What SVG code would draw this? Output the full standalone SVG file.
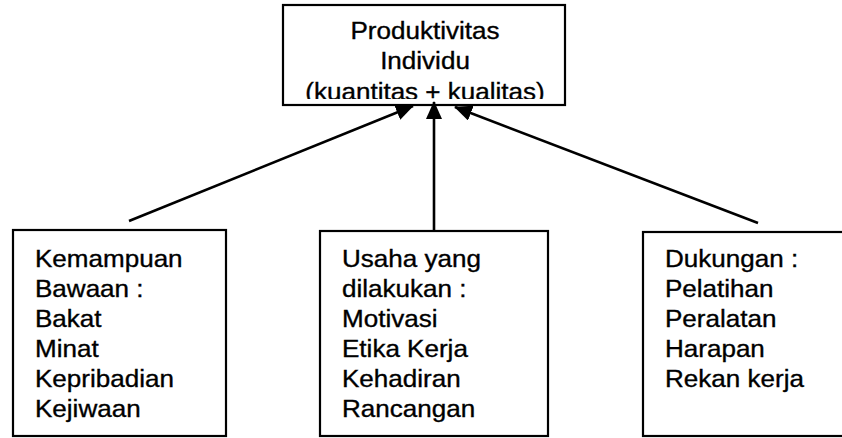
<svg xmlns="http://www.w3.org/2000/svg" width="842" height="438" viewBox="0 0 842 438">
<style>
.box{fill:#fff;stroke:#000;stroke-width:2.2}
.t{font-family:"Liberation Sans",Arial,sans-serif;font-size:24px;fill:#000;stroke:#000;stroke-width:0.35}
.c{text-anchor:middle}
.con{stroke:#000;stroke-width:2.6;fill:none}
</style>
<defs>
<marker id="ah" markerUnits="userSpaceOnUse" markerWidth="18" markerHeight="16" viewBox="0 0 18 16" refX="17" refY="8" orient="auto">
<path d="M0,0 L18,8 L0,16 Z" fill="#000"/>
</marker>
<clipPath id="topclip"><rect x="283" y="5" width="282" height="94"/></clipPath>
</defs>
<rect width="842" height="438" fill="#fff"/>
<g id="top">
<rect class="box" x="283" y="5" width="282" height="100"/>
<g clip-path="url(#topclip)">
<text class="t c" transform="translate(425 39) scale(1.085 1)">Produktivitas</text>
<text class="t c" transform="translate(425 69) scale(1.085 1)">Individu</text>
<text class="t c" transform="translate(425 100) scale(1.085 1)">(kuantitas + kualitas)</text>
</g>
</g>
<g id="connectors">
<line class="con" x1="129" y1="221" x2="413" y2="106" marker-end="url(#ah)"/>
<line class="con" x1="434" y1="231" x2="434" y2="102" marker-end="url(#ah)"/>
<line class="con" x1="758" y1="223" x2="455" y2="107" marker-end="url(#ah)"/>
</g>
<g id="kemampuan">
<rect class="box" x="13" y="230" width="213" height="206"/>
<text class="t" transform="translate(35 267) scale(1.085 1)">Kemampuan</text>
<text class="t" transform="translate(35 297) scale(1.085 1)">Bawaan :</text>
<text class="t" transform="translate(35 327) scale(1.085 1)">Bakat</text>
<text class="t" transform="translate(35 357) scale(1.085 1)">Minat</text>
<text class="t" transform="translate(35 387) scale(1.085 1)">Kepribadian</text>
<text class="t" transform="translate(35 417) scale(1.085 1)">Kejiwaan</text>
</g>
<g id="usaha">
<rect class="box" x="320" y="231" width="228" height="205"/>
<text class="t" transform="translate(342 267) scale(1.085 1)">Usaha yang</text>
<text class="t" transform="translate(342 297) scale(1.085 1)">dilakukan :</text>
<text class="t" transform="translate(342 327) scale(1.085 1)">Motivasi</text>
<text class="t" transform="translate(342 357) scale(1.085 1)">Etika Kerja</text>
<text class="t" transform="translate(342 387) scale(1.085 1)">Kehadiran</text>
<text class="t" transform="translate(342 417) scale(1.085 1)">Rancangan</text>
</g>
<g id="dukungan">
<rect class="box" x="643" y="232" width="210" height="204"/>
<text class="t" transform="translate(665 267) scale(1.085 1)">Dukungan :</text>
<text class="t" transform="translate(665 297) scale(1.085 1)">Pelatihan</text>
<text class="t" transform="translate(665 327) scale(1.085 1)">Peralatan</text>
<text class="t" transform="translate(665 357) scale(1.085 1)">Harapan</text>
<text class="t" transform="translate(665 387) scale(1.085 1)">Rekan kerja</text>
</g>
</svg>
